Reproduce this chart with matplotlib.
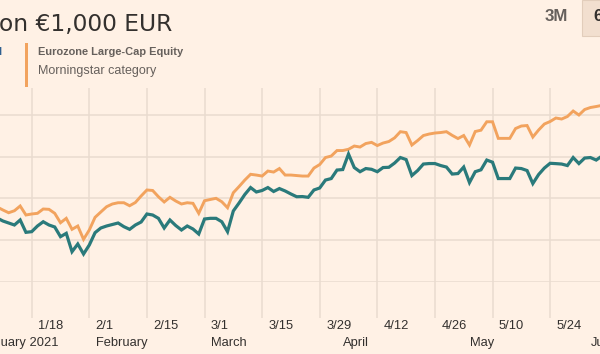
import numpy as np
import pandas as pd
import matplotlib
matplotlib.use("Agg")
import matplotlib.pyplot as plt
from matplotlib.patches import Rectangle

# trading days shown (weekdays), first one is just off the left edge
dates = pd.bdate_range("2021-01-08", "2021-06-04")

# value of EUR 1,000
category = [989.6, 986.0, 982.7, 985.1, 990.8, 980.0, 981.2, 982.0, 987.2, 986.8,
            982.0, 970.7, 976.0, 962.8, 966.8, 950.8, 962.0, 977.2, 983.6, 989.9,
            993.2, 994.7, 994.7, 991.1, 995.0, 1002.8, 1010.0, 1009.4, 1001.9, 995.6,
            1001.2, 996.8, 993.2, 994.7, 994.0, 982.0, 997.1, 998.6, 1000.0, 995.9,
            988.7, 1006.7, 1014.1, 1021.9, 1028.8, 1027.9, 1026.7, 1032.7, 1031.5, 1035.7,
            1027.9, 1027.9, 1027.3, 1026.7, 1026.7, 1036.3, 1040.5, 1048.9, 1050.7, 1057.3,
            1057.3, 1058.8, 1062.7, 1061.5, 1065.7, 1067.1, 1063.3, 1066.3, 1068.1, 1072.5,
            1079.9, 1078.9, 1063.9, 1069.3, 1075.3, 1077.1, 1078.3, 1078.9, 1079.9, 1075.5,
            1071.7, 1075.3, 1063.9, 1080.1, 1081.7, 1091.8, 1091.8, 1071.9, 1071.9, 1071.9,
            1083.7, 1086.7, 1087.3, 1073.5, 1081.9, 1089.1, 1092.1, 1096.3, 1095.1, 1098.1,
            1104.7, 1099.9, 1106.5, 1108.9, 1110.1, 1111.5]

fund = [976.4, 972.8, 970.4, 968.0, 974.0, 959.2, 960.0, 966.8, 971.9, 968.0,
        965.6, 954.0, 958.0, 936.0, 945.2, 933.2, 944.0, 958.8, 964.4, 966.8,
        968.6, 970.4, 966.0, 962.8, 968.0, 971.6, 981.2, 980.0, 976.0, 964.4,
        974.0, 967.4, 962.0, 966.8, 963.2, 957.2, 975.2, 976.0, 976.0, 971.9,
        960.0, 984.8, 994.4, 1004.6, 1012.9, 1007.6, 1009.4, 1012.9, 1008.2, 1011.7,
        1008.8, 1005.2, 1001.9, 1002.1, 1001.2, 1010.0, 1012.4, 1021.9, 1023.7, 1033.9,
        1034.5, 1053.1, 1036.9, 1031.9, 1035.7, 1034.8, 1031.9, 1036.9, 1037.2, 1042.3,
        1048.9, 1046.5, 1027.3, 1033.3, 1041.1, 1041.7, 1041.7, 1039.3, 1037.5, 1029.1,
        1029.7, 1037.5, 1018.9, 1031.9, 1034.2, 1045.9, 1043.3, 1023.7, 1023.7, 1023.7,
        1036.3, 1035.7, 1033.3, 1017.7, 1028.5, 1036.3, 1042.0, 1041.6, 1041.1, 1039.3,
        1048.9, 1041.7, 1048.3, 1048.9, 1045.9, 1050.7]

tick_dates = ["2021-01-18", "2021-02-01", "2021-02-15", "2021-03-01", "2021-03-15",
              "2021-03-29", "2021-04-12", "2021-04-26", "2021-05-10", "2021-05-24"]
month_starts = ["2021-01-04", "2021-02-01", "2021-03-01", "2021-04-01", "2021-05-03", "2021-06-01"]
month_names = ["January 2021", "February", "March", "April", "May", "June"]
y_grid = [900, 950, 1000, 1050, 1100]

BG = "#fff1e5"
GRID = "#e9dccf"
ORANGE = "#f2a35e"
TEAL = "#2a7a7b"
INK = "#33302e"
GREY = "#66605c"

start = np.datetime64(dates[0].date())


def pos(d):
    # position on the trading-day axis
    return np.busday_count(start, np.datetime64(d))


x = np.arange(len(dates))

fig = plt.figure(figsize=(6, 3.54), dpi=100)
fig.patch.set_facecolor(BG)
ax = fig.add_axes([0, 1 - 281.7 / 354, 1, (281.7 - 88) / 354])
ax.set_facecolor(BG)

ax.plot(x, category, color=ORANGE, lw=2.1, solid_joinstyle="miter", zorder=3)
ax.plot(x, fund, color=TEAL, lw=2.3, solid_joinstyle="miter", zorder=4)

ax.set_xlim(0.497, 104.66)
ax.set_ylim(900, 1132.3)

tick_pos = [pos(d) for d in tick_dates]
ax.set_xticks(tick_pos)
ax.set_xticklabels([])
ax.set_yticks(y_grid)
ax.set_yticklabels([])
ax.grid(True, color=GRID, lw=1.1, zorder=0)
ax.tick_params(axis="x", length=26.1, width=1.1, color=GRID, direction="out")
ax.tick_params(axis="y", length=0)
for s in ax.spines.values():
    s.set_visible(False)

for p, d in zip(tick_pos, tick_dates):
    t = pd.Timestamp(d)
    ax.annotate(f"{t.month}/{t.day}", xy=(p, 0), xycoords=("data", "axes fraction"),
                xytext=(4.6, -34.3), textcoords="offset points", ha="left", va="baseline",
                fontsize=9.3, family="Liberation Sans", color=INK, annotation_clip=False)

for d, name in zip(month_starts, month_names):
    ax.annotate(name, xy=(pos(d), 0), xycoords=("data", "axes fraction"),
                xytext=(4.6, -46.6), textcoords="offset points", ha="left", va="baseline",
                fontsize=9.3, family="Liberation Sans", color=INK, annotation_clip=False)

# header
fig.text(-1 / 600, 1 - 30.7 / 354, "on €1,000 EUR", fontsize=16.8, family="DejaVu Sans",
         color=INK, va="baseline", ha="left")

# legend
fig.text(2.5 / 600, 1 - 55 / 354, "Fund", fontsize=7.9, family="Liberation Sans",
         weight="bold", color="#2f5f8f", ha="right", va="baseline")
fig.patches.append(Rectangle((25 / 600, 1 - 87.3 / 354), 3.3 / 600, 44.6 / 354,
                             transform=fig.transFigure, color=ORANGE, lw=0))
fig.text(37.7 / 600, 1 - 55 / 354, "Eurozone Large-Cap Equity", fontsize=7.9,
         family="Liberation Sans", weight="bold", color=GREY, va="baseline")
fig.text(37.7 / 600, 1 - 74 / 354, "Morningstar category", fontsize=9.0,
         family="Liberation Sans", color=GREY, va="baseline")

# period buttons
fig.text(545 / 600, 1 - 20.7 / 354, "3M", fontsize=12.2, family="Liberation Sans",
         weight="bold", color=GREY, va="baseline")
fig.patches.append(Rectangle((581.7 / 600, 1 - 36 / 354), 20 / 600, 36 / 354,
                             transform=fig.transFigure, facecolor="#f2dfcf",
                             edgecolor="#e2cdbb", lw=0.8))
fig.text(593.3 / 600, 1 - 20.7 / 354, "6M", fontsize=12.2, family="Liberation Sans",
         weight="bold", color=INK, va="baseline")

fig.savefig("out.png", dpi=100, facecolor=BG)
